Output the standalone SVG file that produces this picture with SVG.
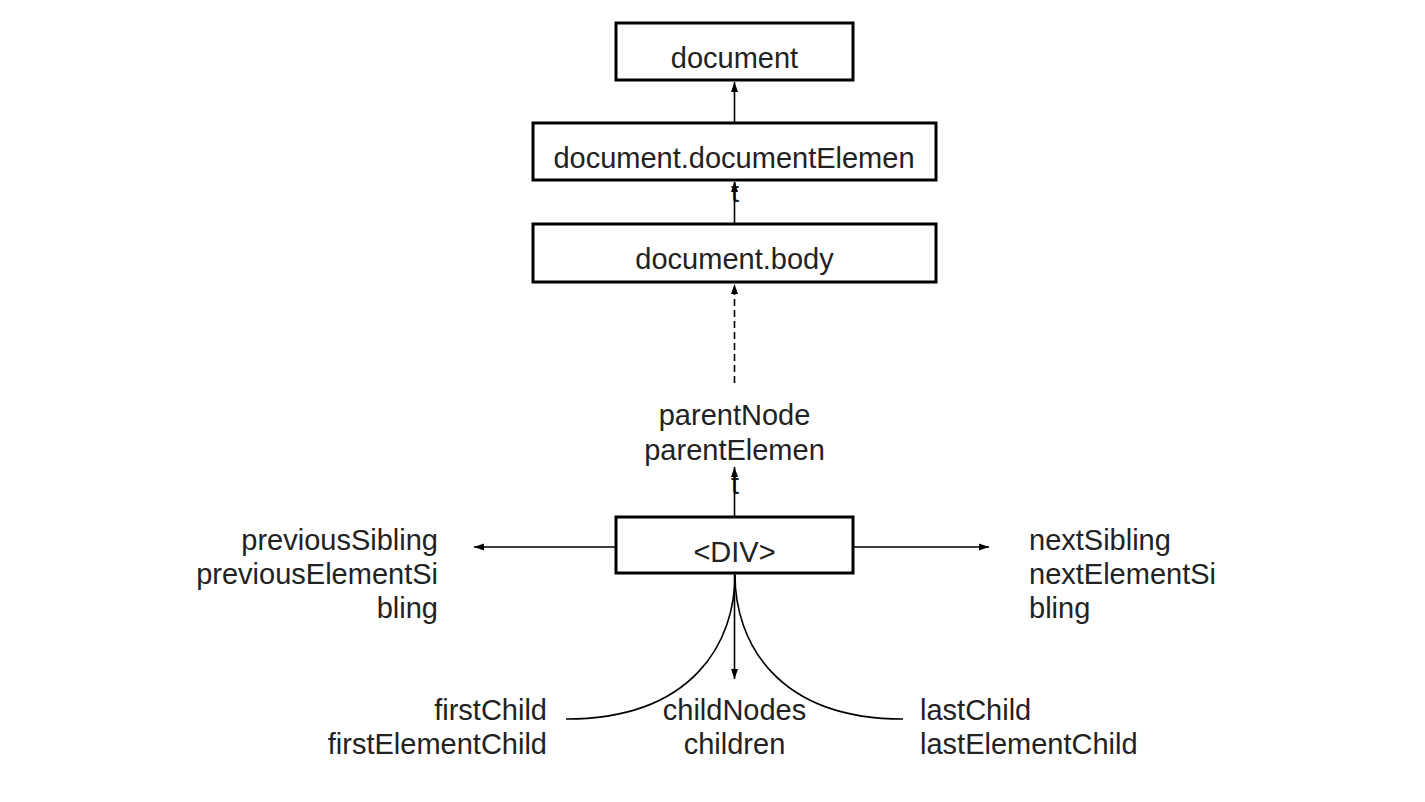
<svg xmlns="http://www.w3.org/2000/svg" width="1425" height="802" viewBox="0 0 1425 802">
<defs>
<style>
.box{fill:#fff;stroke:#000;stroke-width:3}
.t{font-family:"Liberation Sans",Arial,sans-serif;font-size:29px;fill:#222}
.m{text-anchor:middle}
.e{text-anchor:end}
.c{fill:none;stroke:#000;stroke-width:1.6}
</style>
<marker id="ah" markerUnits="userSpaceOnUse" markerWidth="11" markerHeight="8" refX="10" refY="4" orient="auto" viewBox="0 0 11 8">
<path d="M0,0.5 L10,4 L0,7.5 z" fill="#000"/>
</marker>
</defs>
<rect width="1425" height="802" fill="#fff"/>
<g id="stray-text">
<text class="t m" x="735" y="202">t</text>
<text class="t m" x="735" y="494">t</text>
</g>
<g id="connectors">
<line class="c" x1="734.5" y1="123" x2="734.5" y2="82" marker-end="url(#ah)"/>
<line class="c" x1="734.5" y1="224" x2="734.5" y2="182" marker-end="url(#ah)"/>
<line class="c" x1="734.5" y1="383" x2="734.5" y2="284" stroke-dasharray="7 4" marker-end="url(#ah)"/>
<line class="c" x1="734.5" y1="517" x2="734.5" y2="467" marker-end="url(#ah)"/>
<line class="c" x1="616" y1="547" x2="474" y2="547" marker-end="url(#ah)"/>
<line class="c" x1="853" y1="547" x2="989" y2="547" marker-end="url(#ah)"/>
<line class="c" x1="734.5" y1="573" x2="734.5" y2="679" marker-end="url(#ah)"/>
<path class="c" d="M735,575 C735,640 695,719 566,719"/>
<path class="c" d="M735,575 C735,640 775,719 903,719"/>
</g>
<g id="node-document">
<rect class="box" x="616" y="23" width="237" height="57"/>
<text class="t m" x="734.5" y="68">document</text>
</g>
<g id="node-documentElement">
<rect class="box" x="533" y="123" width="403" height="57"/>
<text class="t m" x="734" y="168">document.documentElemen</text>
</g>
<g id="node-body">
<rect class="box" x="533" y="224" width="403" height="58"/>
<text class="t m" x="734.5" y="269">document.body</text>
</g>
<g id="node-div">
<rect class="box" x="616" y="517" width="237" height="56"/>
<text class="t m" x="734.5" y="562">&lt;DIV&gt;</text>
</g>
<g id="label-parent">
<text class="t m" x="734.5" y="425">parentNode</text>
<text class="t m" x="734.5" y="460">parentElemen</text>
</g>
<g id="label-previous">
<text class="t e" x="438" y="550">previousSibling</text>
<text class="t e" x="438" y="584">previousElementSi</text>
<text class="t e" x="438" y="618">bling</text>
</g>
<g id="label-next">
<text class="t" x="1029" y="550">nextSibling</text>
<text class="t" x="1029" y="584">nextElementSi</text>
<text class="t" x="1029" y="618">bling</text>
</g>
<g id="label-first">
<text class="t e" x="547" y="720">firstChild</text>
<text class="t e" x="547" y="754">firstElementChild</text>
</g>
<g id="label-childnodes">
<text class="t m" x="734.5" y="720">childNodes</text>
<text class="t m" x="734.5" y="754">children</text>
</g>
<g id="label-last">
<text class="t" x="920" y="720">lastChild</text>
<text class="t" x="920" y="754">lastElementChild</text>
</g>
</svg>
